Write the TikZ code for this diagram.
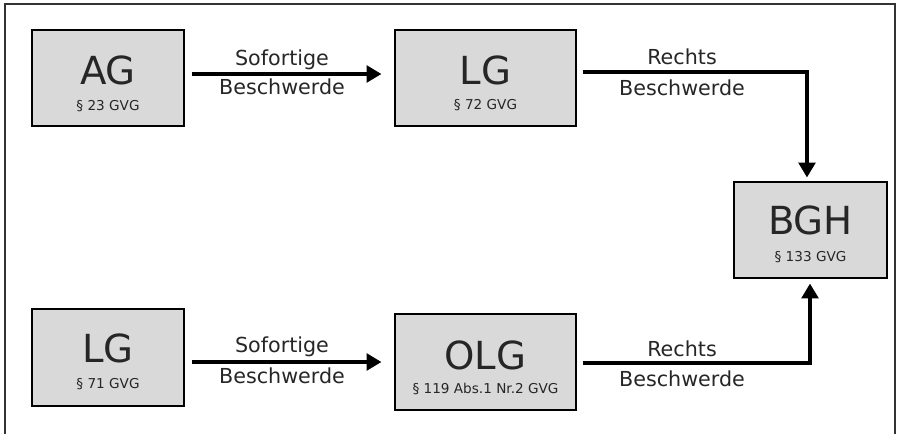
\documentclass[tikz,border=0pt]{standalone}
\usepackage{fontspec}
\setmainfont{DejaVu Sans}
\usetikzlibrary{arrows.meta}
\definecolor{boxfill}{HTML}{D9D9D9}
\definecolor{txt}{HTML}{262626}
\definecolor{frame}{HTML}{333333}
\tikzset{
  court/.style={draw=black, line width=0.9pt, fill=boxfill, inner sep=0pt},
  big/.style={font=\fontsize{29}{29}\selectfont, text=txt, anchor=base, inner sep=0pt},
  small/.style={font=\fontsize{10.2}{11}\selectfont, text=txt, anchor=base, inner sep=0pt},
  lbl/.style={font=\fontsize{15.5}{16}\selectfont, text=txt, anchor=base, inner sep=0pt},
  arr/.style={line width=2.3pt, -{Triangle[length=11pt,width=12.5pt]}},
}
\begin{document}
\begin{tikzpicture}[x=0.75pt,y=-0.75pt]
\useasboundingbox (0,0) rectangle (903,434);
\draw[frame, line width=1.1pt] (5,434) -- (5,4) -- (895,4) -- (895,434);
% boxes
\node[court, minimum width=152*0.75pt, minimum height=96*0.75pt] (AG) at (108,78) {};
\node[court, minimum width=181*0.75pt, minimum height=96*0.75pt] (LGa) at (485.5,78) {};
\node[court, minimum width=153*0.75pt, minimum height=96*0.75pt] (BGH) at (810.5,230) {};
\node[court, minimum width=152*0.75pt, minimum height=97*0.75pt] (LGb) at (108,357.5) {};
\node[court, minimum width=181*0.75pt, minimum height=96*0.75pt] (OLG) at (485.5,362) {};
% box texts
\node[big] (tAG) at (108,85) {AG};
\node[small] (sAG) at (108,111) {§ 23 GVG};
\node[big] (tLGa) at (485.5,85) {LG};
\node[small] (sLGa) at (485.5,110) {§ 72 GVG};
\node[big] (tBGH) at (810.5,235) {BGH};
\node[small] (sBGH) at (810.5,262) {§ 133 GVG};
\node[big] (tLGb) at (108,363) {LG};
\node[small] (sLGb) at (108,389) {§ 71 GVG};
\node[big] (tOLG) at (485.5,370) {OLG};
\node[small] (sOLG) at (485.5,394) {§ 119 Abs.1 Nr.2 GVG};
% helper coordinates
\coordinate (y1) at (0,74);
\coordinate (y2) at (0,362);
\coordinate (k1) at (807,72);
\coordinate (k2) at (810,363);
% arrows
\draw[arr] ([xshift=7*0.75pt]AG.east |- y1) -- ([xshift=-13*0.75pt]LGa.west |- y1);
\draw[arr] ([xshift=7*0.75pt]LGb.east |- y2) -- ([xshift=-13*0.75pt]OLG.west |- y2);
\draw[arr] ([xshift=6*0.75pt]LGa.east |- k1) -- (k1) -- ([yshift=4*0.75pt]BGH.north -| k1);
\draw[arr] ([xshift=6*0.75pt]OLG.east |- k2) -- (k2) -- ([yshift=-5*0.75pt]BGH.south -| k2);
% arrow labels
\node[lbl] (l1a) at (282,66) {Sofortige};
\node[lbl] (l1b) at (282,95) {Beschwerde};
\node[lbl] (l2a) at (282,353) {Sofortige};
\node[lbl] (l2b) at (282,383) {Beschwerde};
\node[lbl] (l3a) at (682,65) {Rechts};
\node[lbl] (l3b) at (682,96) {Beschwerde};
\node[lbl] (l4a) at (682,357) {Rechts};
\node[lbl] (l4b) at (682,387) {Beschwerde};
\end{tikzpicture}
\end{document}
